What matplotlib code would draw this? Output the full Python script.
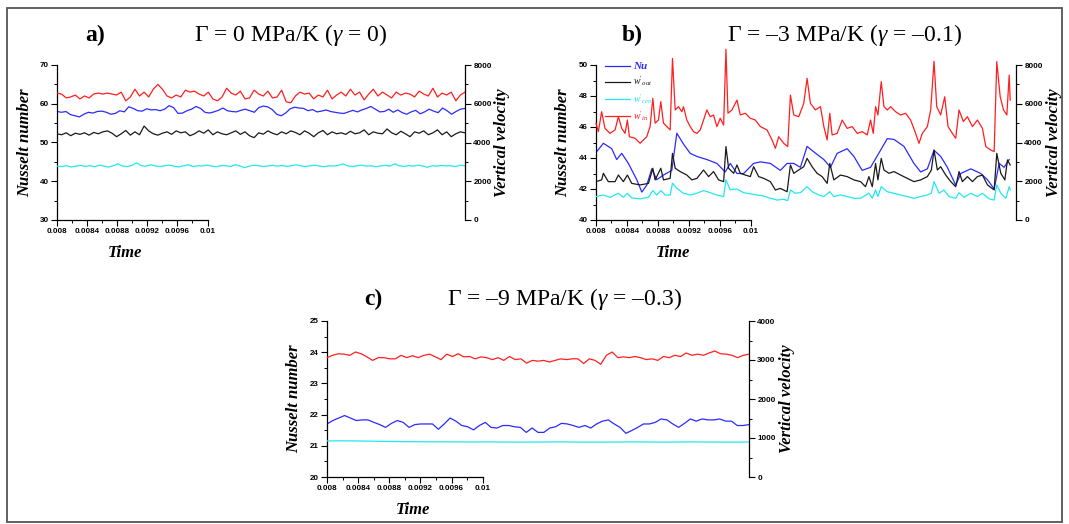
import numpy as np
import matplotlib
matplotlib.use("Agg")
import matplotlib.pyplot as plt
from matplotlib.ticker import MultipleLocator, FixedLocator
from matplotlib.patches import Rectangle

plt.rcParams["mathtext.fontset"] = "custom"
plt.rcParams["mathtext.rm"] = "Liberation Serif"
plt.rcParams["mathtext.it"] = "Liberation Serif:italic"
plt.rcParams["mathtext.bf"] = "Liberation Serif:bold"
plt.rcParams["font.family"] = "Liberation Sans"

RED = "#ff1f1f"
BLUE = "#2b2bff"
BLACK = "#1a1a1a"
CYAN = "#22e8f0"

# -----------------------------
# DATA  panel a (Gamma = 0), evenly sampled over the run
# -----------------------------
a_nu = [58.0, 57.8, 58.0, 57.2, 56.9, 56.6, 57.3, 57.8, 57.6, 58.0, 58.1, 57.8, 57.3, 57.5, 58.2,
        57.9, 59.2, 58.8, 58.2, 58.1, 58.7, 58.4, 58.5, 58.2, 58.6, 59.5, 59.0, 57.5, 57.6, 58.2,
        58.6, 59.3, 58.8, 57.8, 57.6, 57.9, 58.3, 58.9, 58.2, 58.0, 57.9, 58.3, 58.6, 58.2, 57.8,
        59.0, 59.4, 59.2, 58.5, 57.3, 56.9, 57.6, 58.7, 59.1, 58.9, 58.8, 58.2, 58.5, 57.9, 58.1,
        58.4, 58.0, 57.8, 57.6, 57.5, 57.9, 58.3, 57.9, 58.4, 58.8, 59.3, 58.6, 57.9, 58.0, 58.6,
        57.8, 58.4, 57.7, 57.3, 57.9, 58.3, 57.4, 57.9, 58.6, 58.1, 57.7, 58.9, 58.2, 57.3, 58.0,
        58.6, 58.8]
a_w_in = [6550, 6500, 6300, 6350, 6450, 6250, 6400, 6300, 6500, 6550, 6500, 6550, 6500, 6450, 6600,
          6150, 6350, 6750, 6400, 6600, 6350, 6750, 7000, 6750, 6400, 6300, 6450, 6350, 6700, 6600,
          6650, 6500, 6400, 6600, 6250, 6150, 6350, 6800, 6550, 6450, 6650, 6250, 6300, 6700, 6500,
          6400, 6650, 6300, 6350, 6700, 6100, 6050, 6400, 6600, 6500, 6550, 6250, 6450, 6350, 6700,
          6250, 6450, 6600, 6400, 6750, 6450, 6600, 6200, 6500, 6750, 6400, 6600, 6450, 6300, 6600,
          6450, 6550, 6500, 6350, 6650, 6500, 6400, 6800, 6350, 6550, 6450, 6600, 6150, 6450, 6600]
a_w_out = [4450, 4400, 4500, 4350, 4480, 4420, 4500, 4380, 4520, 4450, 4550, 4600, 4480, 4300, 4450,
           4620, 4380, 4550, 4400, 4850, 4600, 4450, 4380, 4480, 4550, 4420, 4600, 4500, 4550, 4350,
           4450, 4600, 4480, 4650, 4400, 4550, 4450, 4400, 4500, 4600, 4420, 4550, 4350, 4250, 4500,
           4430, 4600, 4480, 4400, 4550, 4450, 4600, 4520, 4400, 4600, 4480, 4300, 4500, 4620, 4400,
           4550, 4450, 4500, 4420, 4580, 4450, 4500, 4650, 4400, 4550, 4480, 4450, 4700, 4500, 4400,
           4580, 4450, 4300, 4550, 4480, 4600, 4400, 4500, 4650, 4400, 4550, 4300, 4450, 4550, 4500]
a_w_cen = [2780, 2760, 2800, 2740, 2780, 2820, 2770, 2800, 2750, 2830, 2780, 2730, 2800, 2900, 2780,
           2760, 2820, 2950, 2800, 2780, 2850, 2790, 2760, 2800, 2830, 2780, 2740, 2800, 2850, 2760,
           2800, 2790, 2830, 2780, 2750, 2810, 2800, 2760, 2850, 2790, 2700, 2780, 2830, 2800, 2760,
           2790, 2820, 2780, 2810, 2770, 2800, 2850, 2790, 2760, 2800, 2830, 2780, 2750, 2800, 2780,
           2820, 2900, 2790, 2760, 2800, 2830, 2780, 2800, 2750, 2790, 2820, 2780, 2900, 2800, 2760,
           2810, 2780, 2830, 2790, 2720, 2800, 2780, 2820, 2790, 2800, 2760, 2830, 2800]

# -----------------------------
# DATA  panel b (Gamma = -3), times in ms after t = 0.008 s
# -----------------------------
b_nu_t = [0.000, 0.095, 0.203, 0.267, 0.332, 0.418, 0.526, 0.591, 0.655, 0.720, 0.784, 0.871, 0.978,
          1.043, 1.129, 1.216, 1.302, 1.431, 1.560, 1.668, 1.733, 1.819, 1.905, 2.034, 2.121, 2.250,
          2.379, 2.466, 2.552, 2.638, 2.724, 2.810, 2.940, 3.026, 3.112, 3.241, 3.328, 3.435, 3.543,
          3.672, 3.759, 3.845, 3.974, 4.103, 4.190, 4.276, 4.362, 4.448, 4.534, 4.642, 4.707, 4.836,
          4.966, 5.052, 5.138, 5.203, 5.267, 5.332]
b_nu = [44.35, 44.95, 44.6, 43.9, 44.3, 43.65, 42.6, 41.8, 42.25, 43.3, 42.6, 42.9, 43.2,
        45.6, 44.9, 44.3, 44.1, 43.9, 43.65, 43.1, 43.65, 43.0, 43.0, 43.65, 43.75, 43.65,
        43.2, 43.65, 43.65, 43.4, 44.75, 44.4, 43.9, 43.4, 44.3, 44.6, 44.1, 43.2, 43.4,
        44.5, 45.25, 45.2, 44.75, 43.65, 43.1, 43.3, 44.5, 44.1, 43.4, 42.25, 43.0, 43.3,
        43.0, 42.6, 42.0, 43.65, 43.4, 43.9]

b_in_t = [0.000, 0.030, 0.073, 0.116, 0.181, 0.246, 0.289, 0.332, 0.375, 0.405, 0.431, 0.504, 0.569,
          0.655, 0.698, 0.733, 0.763, 0.806, 0.836, 0.871, 0.914, 0.957, 0.987, 1.022, 1.065, 1.108,
          1.129, 1.172, 1.216, 1.259, 1.302, 1.345, 1.388, 1.431, 1.474, 1.517, 1.560, 1.603, 1.647,
          1.677, 1.703, 1.754, 1.819, 1.862, 1.927, 1.991, 2.056, 2.121, 2.207, 2.272, 2.315, 2.358,
          2.422, 2.474, 2.509, 2.552, 2.616, 2.681, 2.724, 2.767, 2.832, 2.897, 2.940, 2.983, 3.017,
          3.047, 3.112, 3.177, 3.241, 3.306, 3.371, 3.435, 3.500, 3.543, 3.578, 3.608, 3.638, 3.681,
          3.716, 3.759, 3.802, 3.866, 3.931, 3.996, 4.060, 4.125, 4.168, 4.211, 4.276, 4.319, 4.362,
          4.397, 4.448, 4.500, 4.543, 4.599, 4.642, 4.685, 4.741, 4.793, 4.858, 4.922, 4.987, 5.030,
          5.095, 5.138, 5.172, 5.216, 5.259, 5.302, 5.332, 5.345]
b_w_in = [4990, 4560, 5590, 4730, 4470, 4650, 5330, 4730, 4470, 5160, 4300, 4220, 3960,
          4300, 4820, 6280, 5000, 5160, 6110, 5000, 4820, 4650, 8340, 5680, 5850, 5590,
          5850, 5160, 4820, 4560, 4470, 4650, 5160, 5680, 5330, 5420, 4820, 5250, 4900,
          8810, 5510, 5680, 6190, 5420, 5510, 5250, 5160, 4820, 4650, 4130, 3700, 4300,
          3960, 3790, 6450, 5420, 5330, 6020, 7310, 6020, 5680, 5850, 4820, 4130, 5510,
          4390, 4470, 5160, 4730, 4820, 4470, 4560, 4390, 5160, 4470, 5850, 5420, 7140,
          5850, 5680, 5850, 5590, 5420, 5510, 5160, 4470, 3960, 4470, 4820, 5680, 8190,
          5850, 5420, 6360, 4820, 4470, 4220, 5680, 5080, 5330, 4820, 5160, 4730, 3790,
          3610, 3530, 8170, 6360, 5680, 5420, 7480, 6190]

b_out_t = [0.000, 0.073, 0.095, 0.159, 0.246, 0.289, 0.353, 0.405, 0.461, 0.569, 0.677, 0.733, 0.763,
           0.836, 0.871, 0.957, 0.987, 1.022, 1.086, 1.172, 1.237, 1.302, 1.388, 1.453, 1.517, 1.582,
           1.647, 1.677, 1.711, 1.776, 1.819, 1.862, 1.927, 1.991, 2.034, 2.099, 2.164, 2.250, 2.315,
           2.379, 2.466, 2.509, 2.552, 2.616, 2.681, 2.724, 2.789, 2.853, 2.918, 2.983, 3.017, 3.069,
           3.155, 3.241, 3.328, 3.414, 3.478, 3.522, 3.565, 3.608, 3.638, 3.681, 3.716, 3.780, 3.845,
           3.931, 4.017, 4.103, 4.190, 4.276, 4.328, 4.362, 4.405, 4.448, 4.513, 4.578, 4.642, 4.685,
           4.728, 4.793, 4.858, 4.922, 4.987, 5.052, 5.138, 5.172, 5.224, 5.276, 5.310, 5.345]
b_w_out = [1980, 2070, 2410, 1980, 1980, 2320, 1980, 2320, 1890, 1810, 1890, 2670, 2070,
           2670, 2070, 2150, 3440, 2670, 2500, 2320, 2070, 2150, 2580, 2240, 2500, 2070,
           1980, 3790, 2670, 2410, 2840, 2410, 2320, 2240, 2750, 2240, 2150, 1980, 1550,
           1630, 1460, 2840, 2410, 2580, 2750, 3180, 2750, 2410, 2240, 1890, 2920, 2070,
           2320, 2240, 2070, 1980, 1720, 2240, 1720, 2920, 2070, 3180, 2580, 2410, 2500,
           2320, 2150, 1980, 2070, 2240, 2580, 3610, 2580, 2750, 2320, 1980, 1720, 2500,
           1980, 2240, 1980, 2240, 2320, 1810, 1550, 3440, 2410, 2070, 3100, 2840]

b_cen_t = [0.000, 0.095, 0.181, 0.289, 0.353, 0.405, 0.461, 0.569, 0.677, 0.733, 0.784, 0.836, 0.892,
           0.957, 0.987, 1.043, 1.129, 1.216, 1.302, 1.388, 1.474, 1.560, 1.647, 1.677, 1.733, 1.819,
           1.905, 1.991, 2.078, 2.164, 2.250, 2.336, 2.422, 2.474, 2.509, 2.573, 2.638, 2.724, 2.789,
           2.875, 2.940, 3.017, 3.069, 3.155, 3.241, 3.328, 3.414, 3.522, 3.565, 3.608, 3.638, 3.681,
           3.759, 3.845, 3.931, 4.017, 4.103, 4.190, 4.276, 4.328, 4.362, 4.427, 4.491, 4.556, 4.642,
           4.685, 4.750, 4.836, 4.922, 4.987, 5.073, 5.138, 5.172, 5.224, 5.289, 5.332, 5.345]
b_w_cen = [1210, 1290, 1170, 1380, 1170, 1380, 1140, 1090, 1170, 1520, 1290, 1520, 1290,
           1290, 1900, 1640, 1380, 1290, 1380, 1520, 1410, 1290, 1210, 2070, 1560, 1600,
           1410, 1350, 1290, 1240, 1120, 1030, 1070, 1000, 1550, 1380, 1410, 1720, 1460,
           1290, 1210, 1460, 1210, 1290, 1210, 1120, 1120, 1380, 1120, 1550, 1210, 1720,
           1460, 1380, 1290, 1210, 1120, 1210, 1290, 1380, 1980, 1380, 1550, 1210, 1120,
           1410, 1170, 1380, 1210, 1380, 1090, 1030, 1810, 1380, 1120, 1720, 1550]

# -----------------------------
# DATA  panel c (Gamma = -9), evenly sampled over the run
# -----------------------------
c_nu = [21.70, 21.81, 21.89, 21.97, 21.89, 21.81, 21.83, 21.83, 21.75, 21.68, 21.59, 21.72, 21.81,
        21.75, 21.59, 21.68, 21.70, 21.70, 21.70, 21.53, 21.70, 21.89, 21.79, 21.65, 21.61, 21.51,
        21.65, 21.75, 21.59, 21.57, 21.65, 21.65, 21.61, 21.59, 21.43, 21.57, 21.43, 21.43, 21.57,
        21.61, 21.72, 21.70, 21.65, 21.59, 21.65, 21.57, 21.70, 21.79, 21.83, 21.70, 21.59, 21.40,
        21.49, 21.59, 21.70, 21.70, 21.75, 21.86, 21.83, 21.70, 21.59, 21.72, 21.86, 21.79, 21.86,
        21.83, 21.83, 21.86, 21.79, 21.79, 21.65, 21.65, 21.68]
c_w_in = [3060, 3120, 3160, 3150, 3120, 3205, 3160, 3080, 2990, 3060, 3060, 3030, 3030, 3120, 3060,
          3110, 3060, 3120, 3150, 3080, 3010, 3150, 3090, 3160, 3080, 3090, 3030, 3080, 3060, 3010,
          3060, 2990, 3090, 3010, 3030, 2920, 2990, 2970, 2990, 2950, 2990, 3030, 3010, 3030, 3030,
          2910, 3030, 2990, 2890, 3120, 3205, 3060, 3080, 3060, 3090, 3060, 3010, 3030, 2990, 3090,
          3060, 3120, 3090, 3180, 3120, 3150, 3120, 3180, 3230, 3160, 3150, 3120, 3060, 3120, 3150]
c_w_cen = [925, 928, 925, 918, 912, 908, 905, 903, 902, 900, 898, 900, 897, 895, 896,
           898, 900, 897, 893, 895, 897, 900, 898, 895, 897, 900, 898, 896, 893, 897]

T0, T1 = 0.008, 0.01342
major_t = [0.008, 0.0084, 0.0088, 0.0092, 0.0096, 0.01]
major_lbl = ["0.008", "0.0084", "0.0088", "0.0092", "0.0096", "0.01"]
minor_t = [0.0082, 0.0086, 0.0090, 0.0094, 0.0098]

W, H = 1069, 524
fig = plt.figure(figsize=(W / 100, H / 100), dpi=100)


def box(l, t, r, b):
    return [l / W, 1 - b / H, (r - l) / W, (b - t) / H]


def even_time(vals):
    return np.linspace(T0, T1, len(vals))


def ms_time(offsets):
    return T0 + np.array(offsets) * 1e-3


label_font = dict(family="Liberation Serif", weight="bold", style="italic", size=12)


def make_panel(rect, ylim, ymaj, ymin, vlim, vmaj, vmin, time_x):
    ax = fig.add_axes(rect)
    ax2 = ax.twinx()
    ax.set_xlim(T0, T1)
    ax.set_ylim(*ylim)
    ax2.set_ylim(*vlim)
    ax.xaxis.set_major_locator(FixedLocator(major_t))
    ax.set_xticklabels(major_lbl)
    ax.xaxis.set_minor_locator(FixedLocator(minor_t))
    ax.yaxis.set_major_locator(MultipleLocator(ymaj))
    ax.yaxis.set_minor_locator(MultipleLocator(ymin))
    ax2.yaxis.set_major_locator(MultipleLocator(vmaj))
    ax2.yaxis.set_minor_locator(MultipleLocator(vmin))
    ax.spines["top"].set_visible(False)
    ax.spines["right"].set_visible(False)
    ax.spines["bottom"].set_bounds(0.008, 0.01)
    for s in ["top", "left", "bottom"]:
        ax2.spines[s].set_visible(False)
    for a in (ax, ax2):
        a.patch.set_visible(False)
        for s in a.spines.values():
            s.set_linewidth(0.9)
        a.tick_params(which="major", direction="out", length=4, width=0.8, labelsize=5.8, pad=2)
        a.tick_params(which="minor", direction="out", length=2.5, width=0.7)
    for lbl in ax.get_xticklabels() + ax.get_yticklabels() + ax2.get_yticklabels():
        lbl.set_fontweight("bold")
    ax.set_ylabel("Nusselt number", **label_font)
    ax.yaxis.set_label_coords(-0.058, 0.5)
    ax2.set_ylabel("Vertical velocity", **label_font)
    ax2.yaxis.set_label_coords(1.072, 0.5)
    ax.set_xlabel("Time", **label_font)
    ax.xaxis.set_label_coords(time_x, -0.16)
    return ax, ax2


lw = 0.9

# -----------------------------
# Panel a
# -----------------------------
ax, ax2 = make_panel(box(57, 65, 465, 220), (30, 70), 10, 5, (0, 8000), 2000, 1000, 0.167)
ax.plot(even_time(a_nu), a_nu, color=BLUE, lw=lw)
ax2.plot(even_time(a_w_out), a_w_out, color=BLACK, lw=lw)
ax2.plot(even_time(a_w_cen), a_w_cen, color=CYAN, lw=lw)
ax2.plot(even_time(a_w_in), a_w_in, color=RED, lw=lw)

# -----------------------------
# Panel b
# -----------------------------
ax, ax2 = make_panel(box(596, 65, 1016, 220), (40, 50), 2, 1, (0, 8000), 2000, 1000, 0.183)
l_nu, = ax.plot(ms_time(b_nu_t), b_nu, color=BLUE, lw=lw, label="Nu")
l_out, = ax2.plot(ms_time(b_out_t), b_w_out, color=BLACK, lw=lw, label=r"$w'_{out}$")
l_cen, = ax2.plot(ms_time(b_cen_t), b_w_cen, color=CYAN, lw=lw, label=r"$w'_{cen}$")
l_in, = ax2.plot(ms_time(b_in_t), b_w_in, color=RED, lw=lw, label=r"$w'_{in}$", clip_on=False)
leg = ax2.legend(handles=[l_nu, l_out, l_cen, l_in], loc="upper left", bbox_to_anchor=(0.01, 1.05),
                 frameon=False, fontsize=7, handlelength=2.6, handletextpad=0.3,
                 labelspacing=0.35, borderpad=0, labelcolor="linecolor")
leg.get_texts()[0].set_fontfamily("Liberation Serif")
leg.get_texts()[0].set_fontstyle("italic")
leg.get_texts()[0].set_fontweight("bold")
leg.get_texts()[0].set_fontsize(8)

# -----------------------------
# Panel c
# -----------------------------
ax, ax2 = make_panel(box(327, 321, 749, 477), (20, 25), 1, 0.5, (0, 4000), 1000, 500, 0.204)
ax.plot(even_time(c_nu), c_nu, color=BLUE, lw=lw)
ax2.plot(even_time(c_w_cen), c_w_cen, color=CYAN, lw=lw)
ax2.plot(even_time(c_w_in), c_w_in, color=RED, lw=lw)

# -----------------------------
# Titles and frame
# -----------------------------
title_font = dict(family="Liberation Serif", size=17, va="center", ha="center")
fig.text(95 / W, 1 - 35 / H, "a)", weight="bold", **title_font)
fig.text(291 / W, 1 - 35 / H, "Γ = 0 MPa/K ($\\gamma$ = 0)", **title_font)
fig.text(632 / W, 1 - 35 / H, "b)", weight="bold", **title_font)
fig.text(845 / W, 1 - 35 / H, "Γ = –3 MPa/K ($\\gamma$ = –0.1)", **title_font)
fig.text(373 / W, 1 - 299 / H, "c)", weight="bold", **title_font)
fig.text(565 / W, 1 - 299 / H, "Γ = –9 MPa/K ($\\gamma$ = –0.3)", **title_font)

fig.patches.append(Rectangle((7 / W, 1 - 522 / H), 1055 / W, 514 / H, transform=fig.transFigure,
                             fill=False, edgecolor="#555555", linewidth=1.3))

plt.savefig("out.png", dpi=100)
plt.close()
